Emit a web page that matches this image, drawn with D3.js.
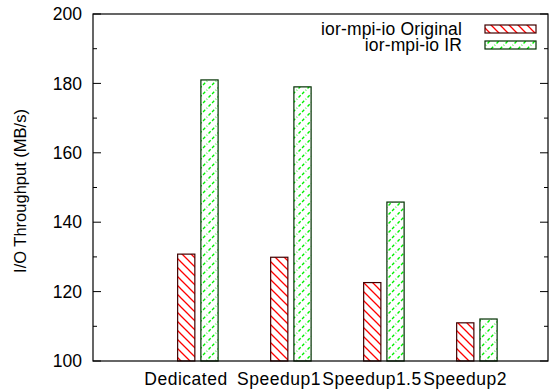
<!DOCTYPE html>
<html>
<head>
<meta charset="utf-8">
<title>I/O Throughput</title>
<script src="https://d3js.org/d3.v7.min.js"></script>
<style>
body { margin:0; background:#fff; }
text { font-family: "Liberation Sans", Arial, Helvetica, sans-serif; fill:#000; }
</style>
</head>
<body>
<svg width="555" height="392"></svg>
<script>
// data
var categories = ["Dedicated", "Speedup1", "Speedup1.5", "Speedup2"];
var original = [130.8, 129.9, 122.6, 111.0];
var ir = [181.0, 179.0, 145.8, 112.1];
var seriesNames = ["ior-mpi-io Original", "ior-mpi-io IR"];
var yTicks = [100, 120, 140, 160, 180, 200];
var yMinor = [110, 130, 150, 170, 190];

var svg = d3.select("svg");
// plot box (note: "top" is taken by window.top)
var pL = 93, pR = 548, pT = 14, pB = 361;
var fs = 17.5;

var x = d3.scaleLinear().domain([-1, 3.892]).range([pL, pR]);
var y = d3.scaleLinear().domain([100, 200]).range([pB, pT]);

// hatch patterns
var defs = svg.append("defs");
defs.append("pattern")
    .attr("id", "hatchRed")
    .attr("patternUnits", "userSpaceOnUse")
    .attr("width", 9).attr("height", 9)
  .append("path")
    .attr("d", "M-2,-2 L11,11 M-2,7 L2,11 M7,-2 L11,2")
    .attr("stroke", "#ff0000")
    .attr("stroke-width", 1.3);
defs.append("pattern")
    .attr("id", "hatchGreen")
    .attr("patternUnits", "userSpaceOnUse")
    .attr("width", 9).attr("height", 9)
  .append("path")
    .attr("d", "M-2,11 L11,-2 M-2,2 L2,-2 M7,11 L11,7")
    .attr("stroke", "#00f000")
    .attr("stroke-width", 1.4)
    .attr("stroke-dasharray", "3,2");

var series = [
  {name: seriesNames[0], values: original, off: -0.09, fill: "url(#hatchRed)", stroke: "#400000"},
  {name: seriesNames[1], values: ir, off: 0.16, fill: "url(#hatchGreen)", stroke: "#003000"}
];
var barW = 0.185;

// bars
series.forEach(function(s) {
  svg.append("g").selectAll("rect")
    .data(s.values)
    .enter().append("rect")
      .attr("x", function(d, i) { return x(i + s.off); })
      .attr("width", x(barW) - x(0))
      .attr("y", function(d) { return y(d); })
      .attr("height", function(d) { return y(100) - y(d); })
      .attr("fill", s.fill)
      .attr("stroke", s.stroke)
      .attr("stroke-width", 1.2);
});

// frame + ticks
svg.append("rect")
    .attr("x", pL).attr("y", pT)
    .attr("width", pR - pL).attr("height", pB - pT)
    .attr("fill", "none").attr("stroke", "#000").attr("stroke-width", 1.2);

var tk = svg.append("g").attr("stroke", "#000").attr("stroke-width", 1);
tk.selectAll(".maj").data(yTicks).enter().append("path")
    .attr("d", function(d) { return "M" + pL + "," + y(d) + "h8M" + pR + "," + y(d) + "h-8"; });
tk.selectAll(".min").data(yMinor).enter().append("path")
    .attr("d", function(d) { return "M" + pL + "," + y(d) + "h4M" + pR + "," + y(d) + "h-4"; });

svg.append("g").selectAll("text")
    .data(yTicks)
    .enter().append("text")
      .attr("x", pL - 11)
      .attr("y", function(d) { return y(d); })
      .attr("dy", "0.35em")
      .attr("text-anchor", "end")
      .style("font-size", fs + "px")
      .text(function(d) { return d; });

svg.append("g").selectAll("text")
    .data(categories)
    .enter().append("text")
      .attr("x", function(d, i) { return x(i); })
      .attr("y", 385)
      .attr("text-anchor", "middle")
      .style("font-size", fs + "px")
      .style("letter-spacing", "0.5px")
      .text(function(d) { return d; });

svg.append("text")
    .attr("transform", "translate(26,191) rotate(-90)")
    .attr("text-anchor", "middle")
    .style("font-size", "16.5px")
    .text("I/O Throughput (MB/s)");

// legend
var leg = svg.append("g").selectAll("g")
    .data(series)
    .enter().append("g")
      .attr("transform", function(d, i) { return "translate(0," + (29 + i * 16) + ")"; });
leg.append("text")
    .attr("x", 462)
    .attr("dy", "0.35em")
    .attr("text-anchor", "end")
    .style("font-size", fs + "px")
    .style("letter-spacing", "0.15px")
    .text(function(d) { return d.name; });
leg.append("rect")
    .attr("x", 485).attr("y", -4)
    .attr("width", 51).attr("height", 8)
    .attr("fill", function(d) { return d.fill; })
    .attr("stroke", function(d) { return d.stroke; })
    .attr("stroke-width", 1.2);
</script>
</body>
</html>
